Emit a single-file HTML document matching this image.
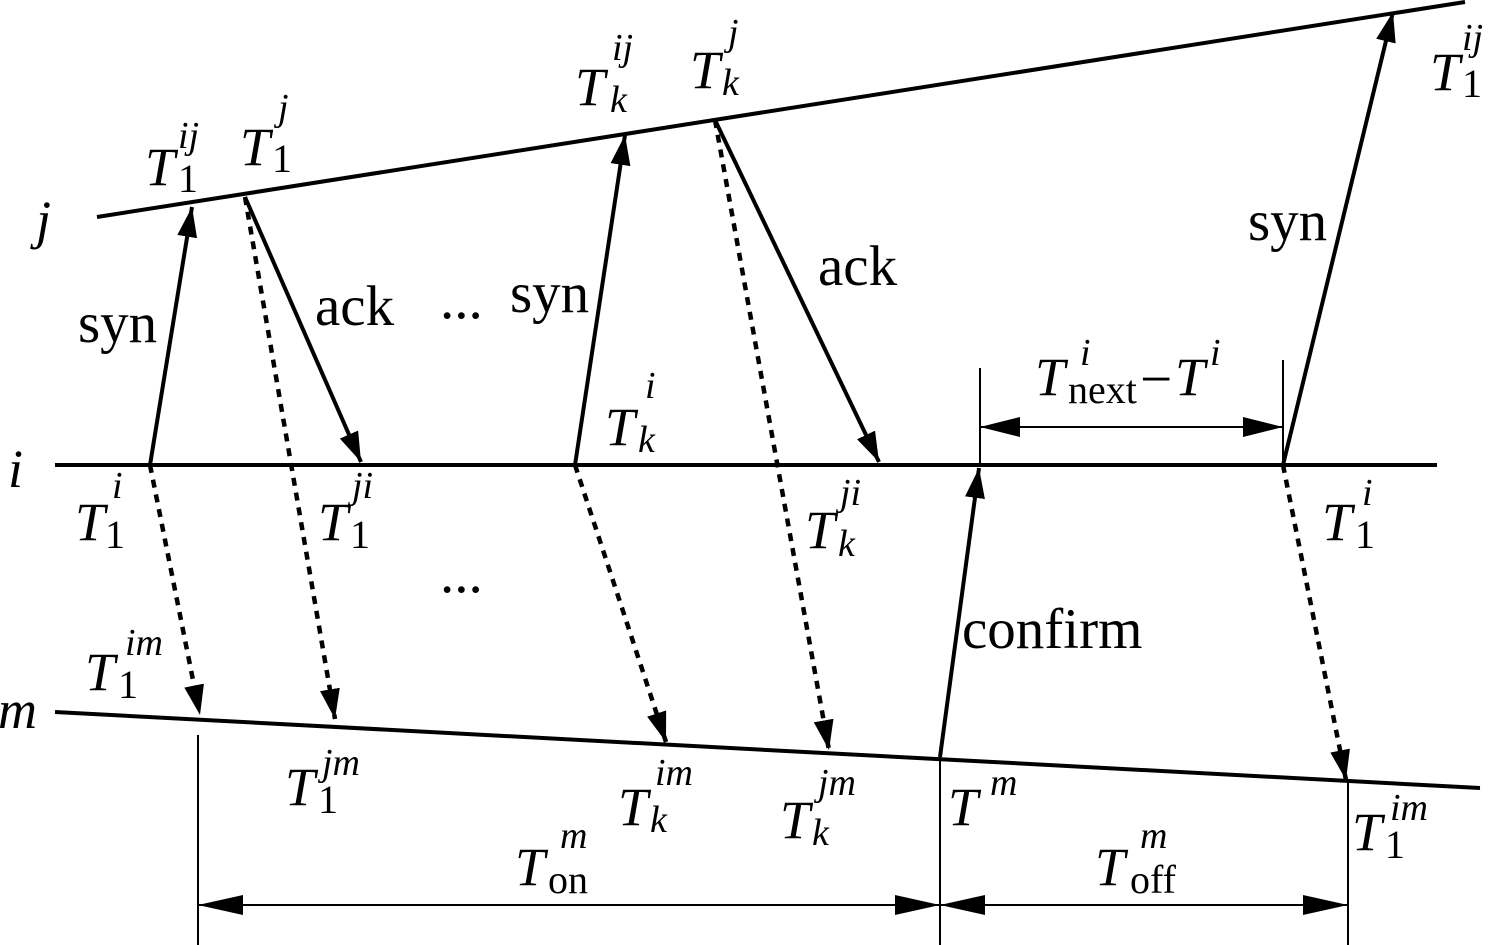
<!DOCTYPE html>
<html><head><meta charset="utf-8"><style>
body{margin:0;background:#fff}
svg{display:block}
text{font-family:"Liberation Serif",serif;fill:#000}
.t{font-style:italic;font-size:54px}
.s{font-style:italic;font-size:38px}
.n{font-size:57px}
.ns{font-size:40px}
</style></head><body>
<svg width="1493" height="945" viewBox="0 0 1493 945">
<defs>
<marker id="a" markerWidth="30" markerHeight="20" refX="30" refY="10" orient="auto" markerUnits="userSpaceOnUse">
<path d="M0,0 L30,10 L0,20 Z" fill="#000"/></marker>
</defs>
<g stroke="#000" stroke-width="4" fill="none">
<line x1="97" y1="217" x2="1465" y2="2"/>
<line x1="55" y1="465" x2="1437" y2="465"/>
<line x1="55" y1="712" x2="1480" y2="788"/>
<line x1="150" y1="465" x2="192" y2="207" marker-end="url(#a)"/>
<line x1="245" y1="197" x2="361" y2="462" marker-end="url(#a)"/>
<line x1="575" y1="465" x2="625" y2="135" marker-end="url(#a)"/>
<line x1="715" y1="120" x2="879" y2="462" marker-end="url(#a)"/>
<line x1="940" y1="757" x2="979" y2="468" marker-end="url(#a)"/>
<line x1="1283" y1="465" x2="1393" y2="12" marker-end="url(#a)"/>
<g stroke-dasharray="8,7" stroke-width="4.5">
<line x1="150" y1="465" x2="200" y2="715" marker-end="url(#a)"/>
<line x1="245" y1="197" x2="335" y2="719" marker-end="url(#a)"/>
<line x1="575" y1="465" x2="666" y2="742" marker-end="url(#a)"/>
<line x1="715" y1="120" x2="829" y2="750" marker-end="url(#a)"/>
<line x1="1283" y1="465" x2="1346" y2="780" marker-end="url(#a)"/>
</g>
</g>
<g stroke="#000" stroke-width="2" fill="none">
<line x1="980" y1="368" x2="980" y2="465"/>
<line x1="1283" y1="360" x2="1283" y2="465"/>
<line x1="980" y1="427" x2="1283" y2="427"/>
<line x1="198" y1="735" x2="198" y2="945"/>
<line x1="940" y1="757" x2="940" y2="945"/>
<line x1="1348" y1="780" x2="1348" y2="945"/>
<line x1="198" y1="905" x2="1348" y2="905"/>
</g>
<g fill="#000">
<path d="M980,427 L1020,417 L1020,437Z"/><path d="M1283,427 L1243,417 L1243,437Z"/>
<path d="M198,905 L243,895 L243,915Z"/><path d="M940,905 L895,895 L895,915Z"/>
<path d="M940,905 L985,895 L985,915Z"/><path d="M1348,905 L1303,895 L1303,915Z"/>
</g>
<text class="t" x="36" y="238">j</text>
<text class="t" x="8" y="487">i</text>
<text class="t" x="-2" y="728">m</text>
<text class="n" x="78" y="342">syn</text>
<text class="n" x="315" y="325">ack</text>
<text class="n" x="440" y="318">...</text>
<text class="n" x="510" y="312">syn</text>
<text class="n" x="818" y="285">ack</text>
<text class="n" x="1248" y="240">syn</text>
<text class="n" x="440" y="592">...</text>
<text class="n" x="962" y="648">confirm</text>
<text class="t" x="145" y="185">T</text><text class="ns" x="178" y="192">1</text><text class="s" x="178" y="148">ij</text>
<text class="t" x="240" y="165">T</text><text class="ns" x="272" y="172">1</text><text class="s" x="278" y="120">j</text>
<text class="t" x="575" y="105">T</text><text class="s" x="610" y="112">k</text><text class="s" x="612" y="60">ij</text>
<text class="t" x="690" y="88">T</text><text class="s" x="722" y="95">k</text><text class="s" x="728" y="45">j</text>
<text class="t" x="1430" y="90">T</text><text class="ns" x="1462" y="97">1</text><text class="s" x="1462" y="50">ij</text>
<text class="t" x="605" y="445">T</text><text class="s" x="638" y="452">k</text><text class="s" x="645" y="398">i</text>
<text class="t" x="1035" y="395">T</text><text class="ns" x="1068" y="403">next</text><text class="s" x="1080" y="365">i</text>
<text class="n" x="1140" y="398">−</text><text class="t" x="1175" y="395">T</text><text class="s" x="1210" y="365">i</text>
<text class="t" x="75" y="540">T</text><text class="ns" x="105" y="548">1</text><text class="s" x="112" y="498">i</text>
<text class="t" x="318" y="540">T</text><text class="ns" x="350" y="548">1</text><text class="s" x="352" y="498">ji</text>
<text class="t" x="805" y="548">T</text><text class="s" x="838" y="556">k</text><text class="s" x="840" y="505">ji</text>
<text class="t" x="1322" y="540">T</text><text class="ns" x="1355" y="548">1</text><text class="s" x="1362" y="505">i</text>
<text class="t" x="85" y="690">T</text><text class="ns" x="118" y="698">1</text><text class="s" x="125" y="655">im</text>
<text class="t" x="285" y="805">T</text><text class="ns" x="318" y="813">1</text><text class="s" x="322" y="775">jm</text>
<text class="t" x="618" y="825">T</text><text class="s" x="650" y="832">k</text><text class="s" x="655" y="785">im</text>
<text class="t" x="780" y="838">T</text><text class="s" x="812" y="845">k</text><text class="s" x="818" y="795">jm</text>
<text class="t" x="948" y="825">T</text><text class="s" x="990" y="795">m</text>
<text class="t" x="1352" y="850">T</text><text class="ns" x="1385" y="858">1</text><text class="s" x="1390" y="820">im</text>
<text class="t" x="515" y="885">T</text><text class="ns" x="548" y="893">on</text><text class="s" x="560" y="848">m</text>
<text class="t" x="1095" y="885">T</text><text class="ns" x="1130" y="893">off</text><text class="s" x="1140" y="848">m</text>
</svg>
</body></html>
